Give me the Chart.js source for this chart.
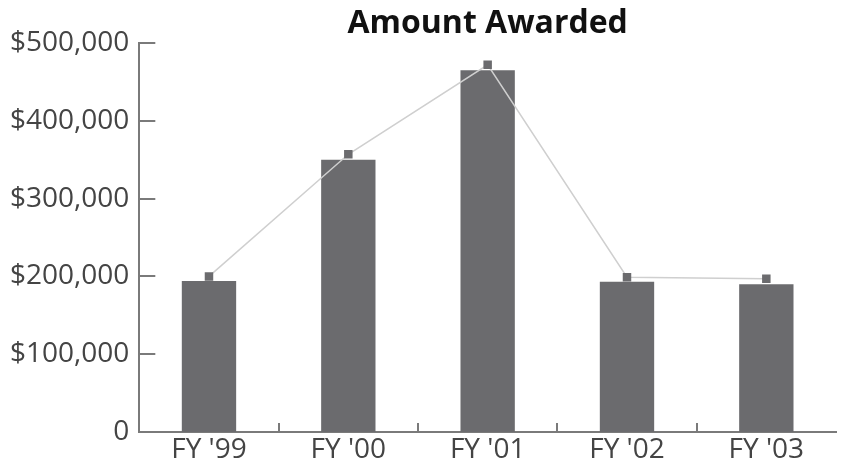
<!DOCTYPE html>
<html>
<head>
<meta charset="utf-8">
<script src="https://cdn.jsdelivr.net/npm/chart.js@4/dist/chart.umd.min.js"></script>
<style>
  html, body { margin: 0; padding: 0; background: #fff; }
  #wrap { width: 842px; height: 468px; }
</style>
</head>
<body>
<div id="wrap"><canvas id="chart"></canvas></div>
<script>
// data
const years = ["FY '99", "FY '00", "FY '01", "FY '02", "FY '03"];
const awarded = [194000, 350000, 465000, 193000, 190000];
const trend = [200000, 357000, 472000, 199000, 197000];
const yTicks = [0, 100000, 200000, 300000, 400000, 500000];
const chartTitle = 'Amount Awarded';

const barColor = '#6b6b6e';
const axisColor = '#7a7a7a';

// title centred over the plot area, and tick marks drawn inside the plot
const decorations = {
  id: 'decorations',
  afterDatasetsDraw(chart) {
    const ctx = chart.ctx;
    const x = chart.scales.x;
    const y = chart.scales.y;
    const area = chart.chartArea;
    ctx.save();
    ctx.strokeStyle = axisColor;
    ctx.lineWidth = 2;
    yTicks.forEach(v => {
      if (v === 0) return;
      const py = Math.round(y.getPixelForValue(v));
      ctx.beginPath();
      ctx.moveTo(area.left, py);
      ctx.lineTo(area.left + 16, py);
      ctx.stroke();
    });
    for (let i = 0; i < years.length - 1; i++) {
      const px = Math.round((x.getPixelForValue(i) + x.getPixelForValue(i + 1)) / 2);
      ctx.beginPath();
      ctx.moveTo(px, area.bottom);
      ctx.lineTo(px, area.bottom - 9);
      ctx.stroke();
    }
    ctx.fillStyle = '#111';
    ctx.font = 'bold 32px "Open Sans"';
    ctx.textAlign = 'center';
    ctx.textBaseline = 'alphabetic';
    ctx.fillText(chartTitle, (area.left + area.right) / 2, 33);
    ctx.restore();
  }
};

new Chart(document.getElementById('chart'), {
  type: 'bar',
  data: {
    labels: years,
    datasets: [
      {
        type: 'line',
        data: trend,
        borderColor: '#cfcfcf',
        borderWidth: 1.5,
        pointStyle: 'rect',
        pointRadius: 6,
        pointBackgroundColor: barColor,
        pointBorderWidth: 0,
        order: 0
      },
      {
        data: awarded,
        backgroundColor: barColor,
        barPercentage: 0.39,
        categoryPercentage: 1,
        order: 1
      }
    ]
  },
  options: {
    responsive: true,
    maintainAspectRatio: false,
    animation: false,
    layout: { padding: { left: 0, right: -4, top: 43, bottom: 0 } },
    plugins: {
      legend: { display: false },
      tooltip: { enabled: false },
      title: { display: false }
    },
    scales: {
      x: {
        grid: { display: false, drawTicks: false },
        border: { color: axisColor, width: 2 },
        ticks: {
          color: '#444',
          padding: 4,
          font: { family: 'Open Sans', size: 28, lineHeight: 1 }
        }
      },
      y: {
        min: 0,
        max: 500000,
        grid: { display: false, drawTicks: false },
        border: { color: axisColor, width: 2 },
        afterBuildTicks(scale) {
          scale.ticks = yTicks.map(v => ({ value: v }));
        },
        ticks: {
          color: '#444',
          padding: 10,
          font: { family: 'Open Sans', size: 28 },
          callback: v => v === 0 ? '0' : '$' + v.toLocaleString('en-US')
        }
      }
    }
  },
  plugins: [decorations]
});
</script>
</body>
</html>
